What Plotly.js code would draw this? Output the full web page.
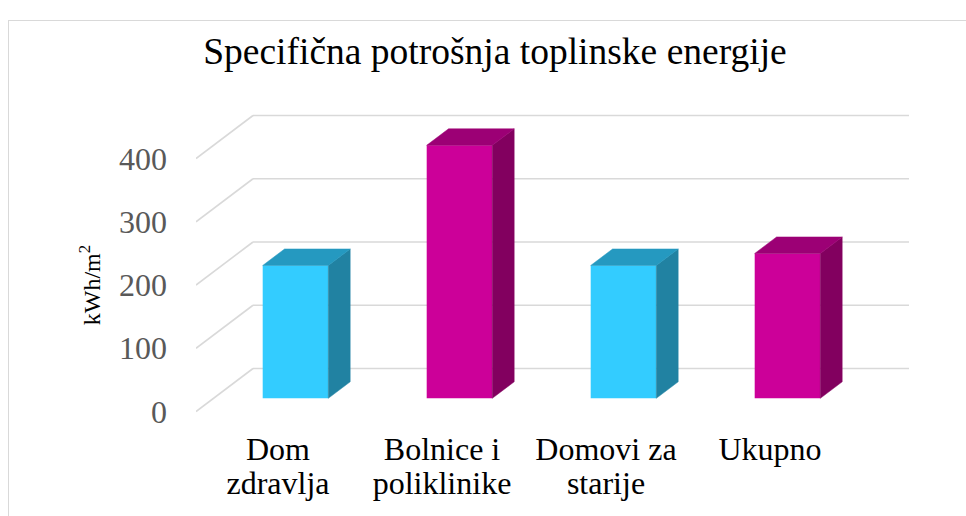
<!DOCTYPE html>
<html>
<head>
<meta charset="utf-8">
<script src="https://cdn.plot.ly/plotly-3.0.1.min.js"></script>
<style>
  html, body { margin: 0; padding: 0; background: #ffffff; overflow: hidden; }
  #wrap { position: relative; width: 966px; height: 516px; }
  #chart { position: absolute; left: 0; top: 0; width: 966px; height: 516px; }
  #frame { position: absolute; left: 8px; top: 20px; width: 1000px; height: 1000px;
           border: 1px solid #D9D9D9; pointer-events: none; }
</style>
</head>
<body>
<div id="wrap">
  <div id="chart"></div>
  <div id="frame"></div>
</div>
<script>
// ---- data ----
const categories = ['Dom<br>zdravlja', 'Bolnice i<br>poliklinike', 'Domovi za<br>starije', 'Ukupno'];
const values = [210, 400, 210, 229];
const yTicks = [0, 100, 200, 300, 400];
const yTickText = ['0', '100', '200', '300', '400'];

// ---- styles ----
const frontColors = ['#33CCFF', '#CC0099', '#33CCFF', '#CC0099'];
const sideColors  = ['#2182A2', '#82005F', '#2182A2', '#82005F'];
const topColors   = ['#2599C0', '#9C0075', '#2599C0', '#9C0075'];
const gridColor = '#D9D9D9';
const serif = 'Liberation Serif';

// ---- 3D projection geometry (oblique), in axis units ----
const PX_PER_CAT = 164;          // px per category
const PX_PER_UNIT = 0.6325;      // px per kWh/m2
const WALL_DX_PX = 57, WALL_DY_PX = 43;   // front edge -> back wall offset (px)
const WALL_DX = WALL_DX_PX / PX_PER_CAT;
const WALL_DY = WALL_DY_PX / PX_PER_UNIT;
const BAR_T0 = 0.307;            // depth fraction of bar front face
const BAR_T1 = 0.691;            // depth fraction of bar back face
const BAR_W = 0.4;
const X_MIN = -0.5, X_MAX = 3.5 + WALL_DX;
const PLOT_TOP = 100, PLOT_BOTTOM = 470, ZERO_PX = 411.5;
const Y_MAX = (ZERO_PX - PLOT_TOP) / PX_PER_UNIT;
const Y_MIN = -(PLOT_BOTTOM - ZERO_PX) / PX_PER_UNIT;
const LABEL1_PX = 419, LABEL2_PX = 453;   // where the two label rows hang from
const plotH = PLOT_BOTTOM - PLOT_TOP;

const fdx = BAR_T0 * WALL_DX, fdy = BAR_T0 * WALL_DY;
const ddx = (BAR_T1 - BAR_T0) * WALL_DX, ddy = (BAR_T1 - BAR_T0) * WALL_DY;

const catPos = categories.map((c, i) => i);
const labelRow1 = categories.map(c => c.split('<br>')[0]);
const row2Idx = catPos.filter(i => categories[i].indexOf('<br>') >= 0);
const labelRow2 = row2Idx.map(i => categories[i].split('<br>')[1]);

const traces = [];
// front faces: real bar trace
traces.push({
  type: 'bar',
  x: values.map((v, i) => i + fdx),
  y: values,
  base: values.map(() => fdy),
  width: BAR_W,
  marker: { color: frontColors, line: { width: 0 } },
  hoverinfo: 'skip', showlegend: false
});
// side and top faces from the same values
values.forEach((v, i) => {
  const xl = i + fdx - BAR_W / 2, xr = i + fdx + BAR_W / 2;
  const yb = fdy, yt = fdy + v;
  traces.push({
    type: 'scatter', mode: 'lines', fill: 'toself',
    x: [xr, xr, xr + ddx, xr + ddx, xr],
    y: [yb, yt, yt + ddy, yb + ddy, yb],
    fillcolor: sideColors[i], line: { width: 0.5, color: sideColors[i] },
    hoverinfo: 'skip', showlegend: false
  });
  traces.push({
    type: 'scatter', mode: 'lines', fill: 'toself',
    x: [xl, xr, xr + ddx, xl + ddx, xl],
    y: [yt, yt, yt + ddy, yt + ddy, yt],
    fillcolor: topColors[i], line: { width: 0.5, color: topColors[i] },
    hoverinfo: 'skip', showlegend: false
  });
});
// invisible trace to bind the second label axis
traces.push({ type: 'scatter', mode: 'markers', x: catPos, y: catPos.map(() => 0),
  xaxis: 'x2', yaxis: 'y', marker: { opacity: 0 }, hoverinfo: 'skip', showlegend: false });

// gridlines on the back wall and the side wall
const shapes = [];
yTicks.forEach(v => {
  shapes.push({ type: 'line', xref: 'x', yref: 'y', layer: 'below',
    x0: X_MIN + WALL_DX, y0: v + WALL_DY, x1: X_MAX, y1: v + WALL_DY,
    line: { color: gridColor, width: 1.6 } });
  shapes.push({ type: 'line', xref: 'x', yref: 'y', layer: 'below',
    x0: X_MIN, y0: v, x1: X_MIN + WALL_DX, y1: v + WALL_DY,
    line: { color: gridColor, width: 1.6 } });
});

const xCommon = {
  range: [X_MIN, X_MAX],
  showgrid: false, zeroline: false, showline: false, ticks: '',
  ticklabelstandoff: 8,
  tickfont: { family: serif, size: 32, color: '#000000' },
  fixedrange: true, anchor: 'free'
};

const layout = {
  width: 966, height: 516,
  margin: { l: 196, r: 57, t: PLOT_TOP, b: 516 - PLOT_BOTTOM },
  paper_bgcolor: 'rgba(0,0,0,0)', plot_bgcolor: 'rgba(0,0,0,0)',
  showlegend: false,
  font: { family: serif },
  title: {
    text: 'Specifična potrošnja toplinske energije',
    font: { family: serif, size: 37.5, color: '#000000' },
    xref: 'container', x: 0.5124, xanchor: 'center',
    yref: 'container', y: 0.902, yanchor: 'middle'
  },
  xaxis: Object.assign({}, xCommon, {
    tickvals: catPos, ticktext: labelRow1, position: (PLOT_BOTTOM - LABEL1_PX) / plotH
  }),
  xaxis2: Object.assign({}, xCommon, {
    tickvals: row2Idx, ticktext: labelRow2, position: (PLOT_BOTTOM - LABEL2_PX) / plotH, overlaying: 'x'
  }),
  yaxis: {
    range: [Y_MIN, Y_MAX], tickvals: yTicks, ticktext: yTickText,
    showgrid: false, zeroline: false, showline: false, ticks: '',
    ticklabelstandoff: 28,
    tickfont: { family: serif, size: 32, color: '#595959' },
    title: { text: 'kWh/m<sup>2</sup>', font: { family: serif, size: 24, color: '#000000' }, standoff: 11 },
    fixedrange: true
  },
  shapes: shapes
};

Plotly.newPlot('chart', traces, layout, { displayModeBar: false, staticPlot: true });
</script>
</body>
</html>
